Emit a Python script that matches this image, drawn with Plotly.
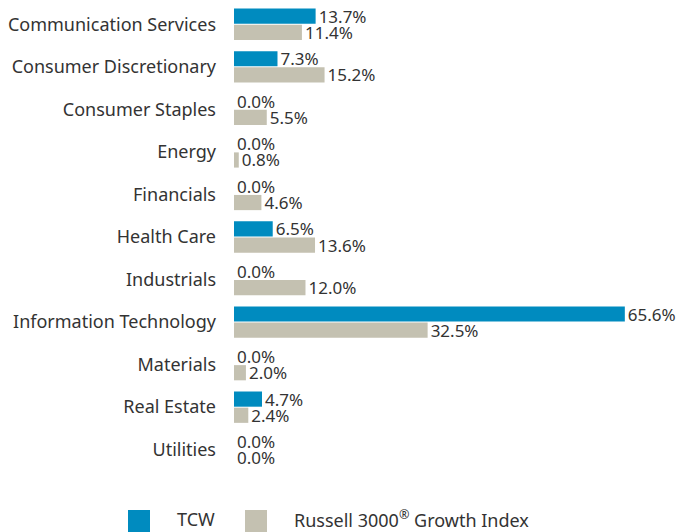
import plotly.graph_objects as go

categories = ["Communication Services", "Consumer Discretionary", "Consumer Staples", "Energy",
              "Financials", "Health Care", "Industrials", "Information Technology",
              "Materials", "Real Estate", "Utilities"]
tcw = [13.7, 7.3, 0.0, 0.0, 0.0, 6.5, 0.0, 65.6, 0.0, 4.7, 0.0]
russell = [11.4, 15.2, 5.5, 0.8, 4.6, 13.6, 12.0, 32.5, 2.0, 2.4, 0.0]
series_names = ["TCW", "Russell 3000<sup>®</sup> Growth Index"]

BLUE = "#008BBF"
GRAY = "#C4C1B1"
TXT = "#333333"
FONT = "Noto Sans"
FS = 18
VFS = 17

fig = go.Figure()
for name, vals, col in [(series_names[0], tcw, BLUE), (series_names[1], russell, GRAY)]:
    fig.add_trace(go.Bar(
        y=categories, x=vals, orientation="h", name=name, marker=dict(color=col, line=dict(width=0)),
        text=[f"{v:.1f}%" for v in vals], textposition="outside", cliponaxis=False,
        constraintext="none",
        textfont=dict(family=FONT, size=VFS, color=TXT), showlegend=False,
    ))

fig.update_layout(
    width=685, height=532,
    margin=dict(l=234, r=0, t=3, b=61, autoexpand=False),
    paper_bgcolor="white", plot_bgcolor="white",
    barmode="group", bargap=0.24, bargroupgap=0.06,
    font=dict(family=FONT, size=FS, color=TXT),
    xaxis=dict(range=[0, 75.7], visible=False),
    yaxis=dict(autorange="reversed", showgrid=False, showline=False, ticks="",
               ticklabelstandoff=17, automargin=False,
               tickfont=dict(family=FONT, size=FS, color=TXT)),
)

# custom legend (paper coords: plot area spans x 234..685, y 3..471)
legend_items = [(BLUE, series_names[0], 128, 175), (GRAY, series_names[1], 245, 292)]
for col, name, sx, tx in legend_items:
    fig.add_shape(type="rect", xref="paper", yref="paper",
                  x0=(sx - 234) / 451, x1=(sx + 22 - 234) / 451,
                  y0=-(532 - 471) / 468, y1=-(510 - 471) / 468,
                  fillcolor=col, line=dict(width=0))
    fig.add_annotation(xref="paper", yref="paper", x=(tx - 234) / 451, y=-(519 - 471) / 468,
                       text=name, showarrow=False, xanchor="left", yanchor="middle",
                       font=dict(family=FONT, size=FS, color=TXT))

fig.write_html("out.html", config={"displayModeBar": False},
               post_script="document.body.style.margin='0';")
